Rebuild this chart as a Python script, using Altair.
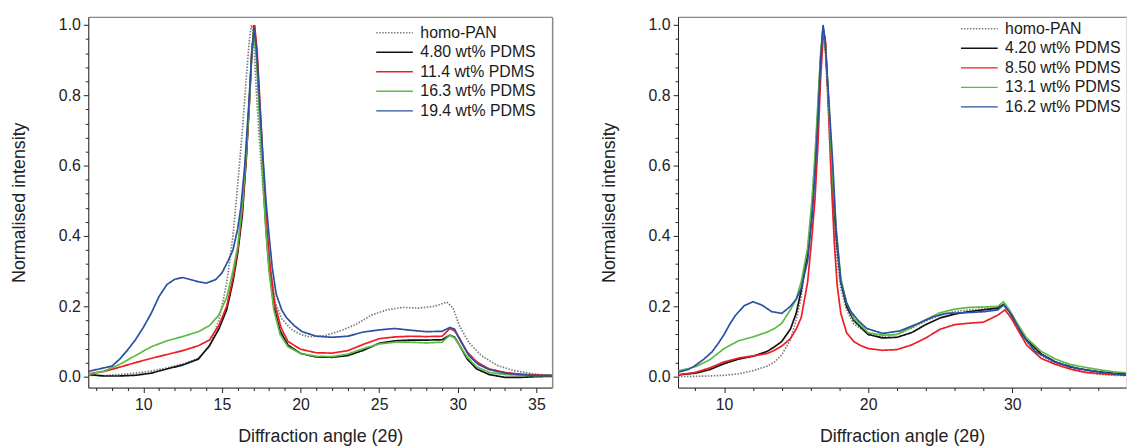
import altair as alt
import pandas as pd

FONT = "Liberation Sans"

# ---------------- left panel data ----------------
L_names = ["homo-PAN", "4.80 wt% PDMS", "11.4 wt% PDMS", "16.3 wt% PDMS", "19.4 wt% PDMS"]

L_pan_x = [6.5, 7.5, 8.5, 9.5, 10.5, 11.5, 12.5, 13.5, 14.2, 14.8, 15.3, 15.7, 16.0, 16.3, 16.55, 16.75, 16.88, 17.0, 17.2, 17.4, 17.6, 17.85, 18.1, 18.4, 18.8, 19.4, 20.0, 20.5, 21.5, 22.5, 23.5, 24.5, 25.5, 26.5, 27.5, 28.5, 29.3, 29.7, 30.1, 30.7, 31.5, 32.5, 33.5, 34.5, 35.5, 36.0]
L_pan_y = [0.004, 0.003, 0.006, 0.010, 0.016, 0.025, 0.036, 0.052, 0.085, 0.160, 0.265, 0.400, 0.545, 0.700, 0.850, 0.960, 1.000, 0.980, 0.800, 0.660, 0.540, 0.410, 0.300, 0.210, 0.165, 0.135, 0.120, 0.114, 0.116, 0.130, 0.148, 0.175, 0.190, 0.197, 0.195, 0.200, 0.212, 0.195, 0.145, 0.097, 0.060, 0.032, 0.018, 0.010, 0.005, 0.004]

L_k_x = [6.5, 7.5, 8.5, 9.5, 10.5, 11.5, 12.5, 13.5, 14.2, 14.8, 15.3, 15.7, 16.0, 16.3, 16.55, 16.75, 16.9, 17.05, 17.2, 17.4, 17.6, 17.8, 18.0, 18.3, 18.7, 19.2, 20.0, 21.0, 22.0, 23.0, 24.0, 25.0, 26.0, 27.0, 28.0, 29.0, 29.5, 29.8, 30.1, 30.6, 31.2, 32.0, 33.0, 34.0, 35.0, 36.0]
L_k_y = [0.006, 0.002, 0.002, 0.004, 0.010, 0.022, 0.033, 0.050, 0.088, 0.135, 0.190, 0.270, 0.350, 0.460, 0.620, 0.780, 0.920, 1.000, 0.930, 0.750, 0.580, 0.420, 0.310, 0.200, 0.130, 0.090, 0.066, 0.056, 0.055, 0.060, 0.075, 0.095, 0.102, 0.104, 0.104, 0.105, 0.118, 0.112, 0.090, 0.050, 0.022, 0.006, -0.002, -0.002, 0.000, 0.001]

L_r_x = [6.5, 7.5, 8.5, 9.5, 10.5, 11.5, 12.5, 13.5, 14.2, 14.8, 15.3, 15.7, 16.0, 16.3, 16.55, 16.75, 16.9, 17.08, 17.25, 17.45, 17.65, 17.85, 18.05, 18.35, 18.75, 19.2, 20.0, 21.0, 22.0, 23.0, 24.0, 25.0, 26.0, 27.0, 28.0, 29.0, 29.5, 29.8, 30.1, 30.6, 31.2, 32.0, 33.0, 34.0, 35.0, 36.0]
L_r_y = [0.008, 0.015, 0.027, 0.040, 0.052, 0.063, 0.074, 0.088, 0.104, 0.145, 0.200, 0.280, 0.360, 0.480, 0.630, 0.790, 0.930, 1.000, 0.920, 0.750, 0.580, 0.430, 0.320, 0.210, 0.140, 0.100, 0.078, 0.068, 0.067, 0.074, 0.092, 0.108, 0.113, 0.115, 0.114, 0.115, 0.137, 0.130, 0.110, 0.070, 0.042, 0.022, 0.012, 0.007, 0.005, 0.004]

L_g_x = [6.5, 7.5, 8.5, 9.5, 10.5, 11.5, 12.5, 13.5, 14.2, 14.8, 15.3, 15.7, 16.0, 16.3, 16.55, 16.75, 16.9, 17.03, 17.2, 17.4, 17.6, 17.8, 18.0, 18.3, 18.7, 19.2, 20.0, 21.0, 22.0, 23.0, 24.0, 25.0, 26.0, 27.0, 28.0, 29.0, 29.5, 29.8, 30.1, 30.6, 31.2, 32.0, 33.0, 34.0, 35.0, 36.0]
L_g_y = [0.006, 0.016, 0.035, 0.060, 0.085, 0.102, 0.114, 0.128, 0.145, 0.175, 0.225, 0.300, 0.370, 0.490, 0.640, 0.790, 0.920, 0.980, 0.900, 0.730, 0.560, 0.410, 0.300, 0.190, 0.120, 0.085, 0.066, 0.058, 0.057, 0.064, 0.080, 0.093, 0.098, 0.098, 0.096, 0.098, 0.118, 0.110, 0.090, 0.055, 0.028, 0.012, 0.006, 0.004, 0.003, 0.003]

L_b_x = [6.5, 7.0, 7.5, 8.0, 8.5, 9.0, 9.5, 10.0, 10.5, 11.0, 11.5, 12.0, 12.5, 13.0, 13.5, 14.0, 14.6, 15.0, 15.4, 15.7, 16.0, 16.2, 16.45, 16.7, 16.9, 17.05, 17.2, 17.4, 17.6, 17.8, 18.0, 18.2, 18.45, 18.8, 19.1, 19.6, 20.1, 21.0, 22.0, 23.0, 24.0, 25.0, 26.0, 27.0, 28.0, 29.0, 29.5, 29.8, 30.1, 30.7, 31.3, 32.0, 33.0, 34.0, 35.0, 36.0]
L_b_y = [0.015, 0.020, 0.025, 0.030, 0.050, 0.076, 0.105, 0.140, 0.180, 0.228, 0.262, 0.277, 0.282, 0.276, 0.270, 0.266, 0.276, 0.295, 0.330, 0.360, 0.420, 0.480, 0.600, 0.770, 0.920, 0.990, 0.930, 0.780, 0.630, 0.500, 0.400, 0.310, 0.235, 0.190, 0.168, 0.145, 0.128, 0.115, 0.112, 0.115, 0.127, 0.133, 0.137, 0.132, 0.128, 0.129, 0.140, 0.135, 0.107, 0.060, 0.035, 0.020, 0.010, 0.006, 0.003, 0.003]

# ---------------- right panel data ----------------
R_names = ["homo-PAN", "4.20 wt% PDMS", "8.50 wt% PDMS", "13.1 wt% PDMS", "16.2 wt% PDMS"]

R_pan_x = [6.8, 8.0, 9.0, 10.0, 11.0, 12.0, 13.0, 13.5, 14.0, 14.6, 15.0, 15.35, 15.8, 16.1, 16.3, 16.5, 16.7, 16.85, 17.0, 17.2, 17.4, 17.6, 17.85, 18.1, 18.5, 19.0, 20.0, 21.0, 22.0, 23.0, 24.0, 25.0, 26.0, 27.0, 28.0, 29.0, 29.4, 29.8, 30.3, 31.0, 32.0, 33.0, 34.0, 35.0, 36.0, 37.0, 37.9]
R_pan_y = [0.000, 0.001, 0.002, 0.004, 0.008, 0.017, 0.030, 0.042, 0.062, 0.105, 0.160, 0.225, 0.370, 0.500, 0.620, 0.760, 0.920, 0.990, 0.950, 0.780, 0.600, 0.450, 0.330, 0.250, 0.190, 0.150, 0.122, 0.113, 0.120, 0.138, 0.158, 0.175, 0.185, 0.190, 0.192, 0.198, 0.205, 0.185, 0.150, 0.100, 0.060, 0.037, 0.022, 0.012, 0.007, 0.004, 0.003]

R_k_x = [6.8, 8.0, 9.0, 10.0, 11.0, 12.0, 13.0, 13.5, 14.0, 14.6, 15.0, 15.35, 15.8, 16.1, 16.3, 16.5, 16.7, 16.87, 17.0, 17.2, 17.4, 17.6, 17.8, 18.1, 18.5, 19.0, 20.0, 21.0, 22.0, 23.0, 24.0, 25.0, 26.0, 27.0, 28.0, 29.0, 29.4, 29.8, 30.3, 31.0, 32.0, 33.0, 34.0, 35.0, 36.0, 37.0, 37.9]
R_k_y = [0.005, 0.010, 0.020, 0.037, 0.050, 0.058, 0.072, 0.085, 0.100, 0.135, 0.180, 0.245, 0.350, 0.470, 0.590, 0.740, 0.900, 0.990, 0.960, 0.820, 0.660, 0.500, 0.390, 0.270, 0.200, 0.160, 0.120, 0.110, 0.112, 0.125, 0.148, 0.167, 0.178, 0.185, 0.190, 0.195, 0.205, 0.185, 0.150, 0.105, 0.065, 0.042, 0.028, 0.020, 0.014, 0.010, 0.008]

R_r_x = [6.8, 8.0, 9.0, 10.0, 11.0, 12.0, 13.0, 13.5, 14.0, 14.6, 15.0, 15.35, 15.8, 16.1, 16.3, 16.5, 16.7, 16.9, 17.05, 17.25, 17.45, 17.65, 17.85, 18.1, 18.5, 19.0, 19.5, 20.0, 21.0, 22.0, 23.0, 24.0, 25.0, 26.0, 27.0, 28.0, 29.0, 29.5, 29.9, 30.3, 31.0, 32.0, 33.0, 34.0, 35.0, 36.0, 37.0, 37.9]
R_r_y = [0.005, 0.012, 0.025, 0.042, 0.053, 0.059, 0.066, 0.075, 0.087, 0.108, 0.135, 0.168, 0.270, 0.400, 0.500, 0.650, 0.850, 0.980, 0.950, 0.760, 0.550, 0.380, 0.260, 0.180, 0.125, 0.100, 0.088, 0.080, 0.075, 0.077, 0.090, 0.110, 0.135, 0.148, 0.152, 0.155, 0.175, 0.190, 0.168, 0.140, 0.090, 0.052, 0.035, 0.022, 0.013, 0.009, 0.006, 0.005]

R_g_x = [6.8, 8.0, 9.0, 10.0, 11.0, 12.0, 13.0, 13.5, 14.0, 14.6, 15.0, 15.35, 15.8, 16.1, 16.3, 16.5, 16.7, 16.87, 17.0, 17.2, 17.4, 17.6, 17.8, 18.1, 18.5, 19.0, 20.0, 21.0, 22.0, 23.0, 24.0, 25.0, 26.0, 27.0, 28.0, 29.0, 29.4, 29.8, 30.3, 31.0, 32.0, 33.0, 34.0, 35.0, 36.0, 37.0, 37.9]
R_g_y = [0.016, 0.028, 0.048, 0.080, 0.102, 0.113, 0.127, 0.137, 0.152, 0.190, 0.220, 0.270, 0.366, 0.500, 0.620, 0.770, 0.920, 0.990, 0.960, 0.820, 0.670, 0.520, 0.410, 0.280, 0.210, 0.165, 0.125, 0.118, 0.120, 0.140, 0.162, 0.182, 0.192, 0.197, 0.198, 0.200, 0.213, 0.190, 0.155, 0.110, 0.072, 0.050, 0.035, 0.027, 0.020, 0.014, 0.011]

R_b_x = [6.8, 7.5, 8.0, 8.6, 9.15, 9.6, 10.0, 10.4, 10.8, 11.4, 12.0, 12.6, 13.3, 14.0, 14.6, 15.0, 15.35, 15.8, 16.1, 16.3, 16.5, 16.7, 16.87, 17.0, 17.2, 17.4, 17.55, 17.77, 18.1, 18.5, 18.8, 19.3, 19.9, 21.0, 22.2, 23.4, 24.5, 25.4, 26.8, 28.1, 29.0, 29.4, 29.98, 30.67, 31.58, 32.95, 34.56, 36.4, 37.9]
R_b_y = [0.013, 0.020, 0.032, 0.050, 0.070, 0.095, 0.120, 0.150, 0.175, 0.202, 0.213, 0.204, 0.185, 0.180, 0.200, 0.220, 0.251, 0.330, 0.450, 0.570, 0.720, 0.900, 1.000, 0.960, 0.830, 0.700, 0.600, 0.420, 0.270, 0.210, 0.185, 0.160, 0.137, 0.123, 0.130, 0.150, 0.170, 0.180, 0.182, 0.185, 0.190, 0.204, 0.175, 0.120, 0.072, 0.042, 0.023, 0.011, 0.004]

COLORS = ["#7a7a7a", "#111111", "#ee1c24", "#5cbb45", "#2c4fa3"]
DASHES = [[1.5, 1.5], [1, 0], [1, 0], [1, 0], [1, 0]]

L_series = [(L_pan_x, L_pan_y), (L_k_x, L_k_y), (L_r_x, L_r_y), (L_g_x, L_g_y), (L_b_x, L_b_y)]
R_series = [(R_pan_x, R_pan_y), (R_k_x, R_k_y), (R_r_x, R_r_y), (R_g_x, R_g_y), (R_b_x, R_b_y)]


def frame(names, series):
    rows = []
    for i, (name, (xs, ys)) in enumerate(zip(names, series)):
        for x, y in zip(xs, ys):
            rows.append({"x": x, "y": y, "s": name, "o": i})
    return pd.DataFrame(rows)


Y_TICKS = [round(i * 0.04, 2) for i in range(26)]
Y_MAJOR = "abs(datum.value*5 - round(datum.value*5)) < 0.001"


def panel(names, series, xdom, xticks, xmajor, width, legend_x, legend_y, right_frame):
    df = frame(names, series)
    xscale = alt.Scale(domain=xdom, nice=False, zero=False)
    yscale = alt.Scale(domain=[-0.031, 1.023], nice=False, zero=False)
    legend = alt.Legend(
        orient="none", legendX=legend_x, legendY=legend_y, title=None,
        symbolType="M-2,0H2", symbolSize=342, symbolStrokeWidth=1.4,
        labelFontSize=16, labelFont=FONT, labelColor="#1a1a1a",
        rowPadding=1.7, labelOffset=16, padding=0, symbolOpacity=1,
    )
    xaxis = alt.Axis(
        values=xticks, labelExpr=f"({xmajor}) ? datum.label : ''", format="d",
        tickSize={"condition": {"test": xmajor, "value": 5}, "value": 3},
        labelOverlap=False, grid=False, domainColor="#222", tickColor="#222",
        labelColor="#222", labelFontSize=16, labelFont=FONT, labelPadding=4,
        title="Diffraction angle (2θ)", titleFontSize=18, titleFont=FONT,
        titleFontWeight="normal", titleColor="#222", titlePadding=15,
    )
    yaxis = alt.Axis(
        values=Y_TICKS, labelExpr=f"({Y_MAJOR}) ? format(datum.value, '.1f') : ''",
        tickSize={"condition": {"test": Y_MAJOR, "value": 5}, "value": 3},
        labelOverlap=False, grid=False, domainColor="#222", tickColor="#222",
        labelColor="#222", labelFontSize=16, labelFont=FONT, labelPadding=3,
        title="Normalised intensity", titleFontSize=18, titleFont=FONT,
        titleFontWeight="normal", titleColor="#222", titlePadding=30,
    )
    lines = alt.Chart(df).mark_line(strokeWidth=1.7, clip=True).encode(
        x=alt.X("x:Q", scale=xscale, axis=xaxis),
        y=alt.Y("y:Q", scale=yscale, axis=yaxis),
        color=alt.Color("s:N", scale=alt.Scale(domain=names, range=COLORS), legend=legend),
        strokeDash=alt.StrokeDash("s:N", scale=alt.Scale(domain=names, range=DASHES), legend=legend),
        order=alt.Order("o:Q"),
    )
    top = alt.Chart(df).mark_point(opacity=0).encode(
        x=alt.X("x:Q", scale=xscale, axis=alt.Axis(orient="top", labels=False, ticks=False, grid=False,
                                                     domainColor="#8a8a8a", domainWidth=1.5, title=None)),
        y=alt.Y("y:Q", scale=yscale, axis=alt.Axis(orient="right", labels=False, ticks=False, grid=False,
                                                     domainColor="#8a8a8a" if right_frame else "transparent",
                                                     domainWidth=1.5, title=None)),
    )
    return alt.layer(lines, top).resolve_axis(x="independent", y="independent").properties(
        width=width, height=374)


left = panel(L_names, L_series, [6.5, 36.0], list(range(7, 36)), "datum.value % 5 === 0",
             468, 299, 6, True)
right = panel(R_names, R_series, [6.8, 37.9], list(range(8, 38, 2)), "datum.value % 10 === 0",
              452, 294, 2, False)

chart = alt.hconcat(left, right, spacing=44).resolve_scale(
    color="independent", strokeDash="independent"
).properties(
    padding={"left": 2, "top": 6, "right": 0, "bottom": 0}
).configure_view(strokeWidth=0).configure(font=FONT)

chart.save("out.html", embed_options={"renderer": "svg", "actions": False})
